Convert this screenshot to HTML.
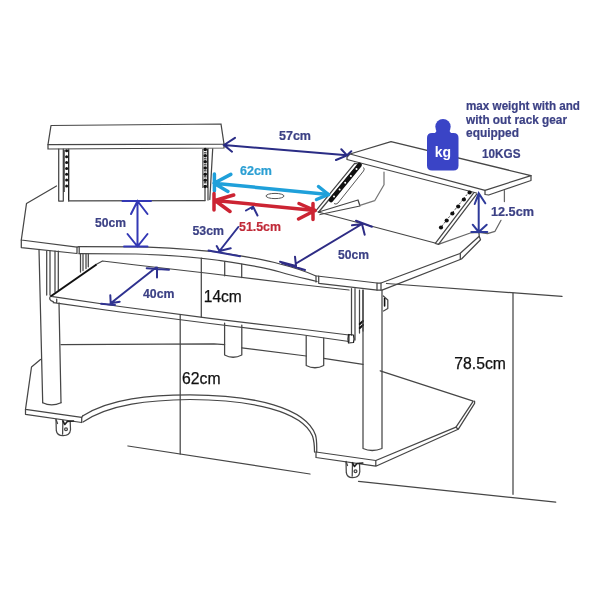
<!DOCTYPE html>
<html><head><meta charset="utf-8">
<style>
html,body{margin:0;padding:0;background:#fff;}
svg{display:block;will-change:transform;}
text{font-family:"Liberation Sans",sans-serif;}
</style></head>
<body>
<svg width="600" height="600" viewBox="0 0 600 600">
<rect width="600" height="600" fill="#fff"/>
<!-- ===== DRAWING LINES ===== -->
<g fill="none" stroke="#464646" stroke-width="1.25" stroke-linejoin="round" stroke-linecap="round">
  <!-- left hutch shelf -->
  <path d="M48,144.5 L51,125.5 L221,124 L224,144 Z"/>
  <path d="M48,144.5 L48,149 L224,148 L224,144"/>
  <!-- left hutch left bracket -->
  <path d="M58.7,149 V201 M63.3,149 V201 M68.7,149 V201 M58.7,201 H63.3"/>
  <!-- back panel bottom -->
  <path d="M68.7,200.8 L205,200.5"/>
  <!-- left hutch right bracket -->
  <path d="M205,187 V200.5 M208,148.5 V200 M212.7,148.8 L209.8,199.5"/>

  <!-- desk left wing -->
  <path d="M56.5,186 L26.5,203.5 L21.3,240 L77,247.2 L79,246.7"/>
  <path d="M21.3,240 V247.6 L77,253.5 V247.2 M79.2,246.7 V253.6"/>
  <!-- desk center front -->
  <path d="M79,246.7 L136,246.8 C155,247.3 190,248.8 216,252 C240,255.5 262,259 280,264 C292,267 305,271 316,276"/>
  <path d="M79,253.7 L136,254 C155,254.6 190,256.5 216,260 C240,263.5 262,266.5 280,272 C295,276.5 307,279 317,281.5"/>
  <!-- right wing -->
  <path d="M317,276 L377,283 L381,283 L460,253.5 L479.2,236.3 L479,232.5"/>
  <path d="M316,276 V282 M318.7,276 V283.3 L377.3,290.2 L382,290.2 L461.5,259 L480.5,239.7 L479.2,236.3"/>
  <path d="M377,283 V290 M381,283 V290 M460.3,253.7 V259"/>
  <!-- right wing back edge -->
  <path d="M318,212 L435,243"/>
  <path d="M438.3,244.3 L470.3,233 L479,232.3 L487.5,233.7 L495,231.3 L501,220.3 M504.4,201.6 L504.4,190.5" stroke="#666"/>

  <!-- right hutch shelf -->
  <path d="M350,154 L391,141.7 L531,175.6 L485,190.3 Z"/>
  <path d="M350,154 L347,157 L347,159.5 L476.5,193 M485,190.3 L485,194.5 L488.7,195 L531,180.5 V175.6" />
  <!-- right hutch left bracket -->
  <path d="M354.7,163.3 L316,210.7 M358.7,164 L318.7,212 M358.7,164 L354.7,163.3"/>
  <!-- plank -->
  <path d="M318.7,212 L358,200 L360,206 L320,214.5"/>
  <!-- back panel outline -->
  <path d="M384,172 V184.7 L374.7,200.7 L360,205.3" stroke="#777"/>
  <!-- right hutch right bracket -->
  <path d="M473.7,192.9 L435.3,243.3 L438.5,244.3 L476.7,194.2"/>

  <!-- legs & tray -->
  <path d="M39,249.5 L42.7,402.7 M59,303 L61,402.7"/>
  <path d="M42.7,402.7 Q51.5,407 61,402.7"/>
  <!-- left tray slides -->
  <path d="M46.7,251 V295 M50,251 V295 M55,251 V292 M58.3,251 V290"/>
  <path d="M80.5,253.8 V272 M83,253.8 V270.5 M86,253.8 V268.5 M88.3,253.8 V266.8"/>
  <!-- tray -->
  <path d="M96,264.5 L102.5,261 L136,265 L210,273.5 L300,284.5 L349,290"/>
  <path d="M52.7,296.7 L120,306.5 L210,318.3 L300,329 L349,335"/>
  <path d="M53.3,302.7 L120,312 L210,323.5 L300,334.5 L349,341.5 M349,335 V341.5 M56.7,299 V303"/>
  <path d="M50.5,296 Q48,300 53.3,301.7"/>
  <!-- right tray slide -->
  <path d="M351.5,288.5 V335 M355,288.5 V340 M359.5,290 V333 M363,290 V331"/>
  <path d="M359.8,324 L363,321 M359.8,328 L363,325" stroke="#111" stroke-width="2"/>
  <path d="M348.5,334.5 Q347.5,339 348.5,343 L353.5,342.5 Q354.5,338.5 353.5,335 Z" stroke="#222"/>
  <!-- center pillars -->
  <path d="M224.7,261.7 V275.8 M241.7,264 V277.5"/>
  <path d="M224.6,323 V355 Q233,359.5 241.8,355 V325"/>
  <path d="M306.2,336 V365.5 Q315,370 323.7,365.5 V338"/>
  <!-- back line behind -->
  <path d="M61,344.5 L214,343.8 L224.6,344.7"/>
  <path d="M241.8,347.8 L306.2,356" />
  <path d="M323.7,358.3 L363,364.3"/>
  <!-- right leg -->
  <path d="M363,290 V448.5 Q372,452.5 382,448.5 V290"/>
  <path d="M383.3,296 L387.8,300 V308.5 L383.5,311"/><path d="M384.6,298.5 V306" stroke="#111" stroke-width="1.6"/>
  <!-- base -->
  <path d="M40.5,359.5 L31.5,367 L25.5,409.3 L81.7,417.3 L83,415.5"/>
  <path d="M25.5,409.3 V414.3 L81.7,422.5 V417.3"/>
  <path d="M83,415.8 C110,398.5 150,395 190,394.8 C255,395 306,408 315.5,435 Q317,440 316.7,452"/>
  <path d="M83,422 C110,404 150,400 190,399.5 C252,400 302,411 312.5,436 Q314.5,442 314.5,452"/>
  <path d="M316,452 L375.8,460.5 L456,427.2 L473.3,401.2 L380.2,370.8"/>
  <path d="M316,452 V457.5 L375.8,466.2 L458.2,429.3 L474.6,403.3 V401.2 M375.8,460.5 V466.2 M456,427.2 L458.2,429.3"/>
  <!-- casters -->
  <path d="M56.0,419.5 L56.3,430.7 Q57.0,435.7 63.0,435.7 Q70.0,435.4 70.5,429.7 L70.2,421.5"/><path d="M62.9,420.5 L62.6,434.2"/><path d="M56.0,419.5 L57.5,423.5"/><path d="M62.9,421.0 L64.8,424.5 L67.3,421.5 L73.5,421.0" stroke-width="1.6" stroke="#222"/><circle cx="66.0" cy="429.2" r="1.4"/>
  <path d="M346.0,461.5 L346.3,472.7 Q347.0,477.7 352.6,477.7 Q359.3,477.4 359.8,471.7 L359.5,463.5"/><path d="M352.5,462.5 L352.2,476.2"/><path d="M346.0,461.5 L347.5,465.5"/><path d="M352.5,463.0 L354.5,466.5 L357.0,463.5 L362.8,463.0" stroke-width="1.6" stroke="#222"/><circle cx="355.5" cy="471.2" r="1.4"/>
  <!-- floor & dimension lines -->
  <path d="M128,446 L310,474"/>
  <path d="M358.5,481.3 L555.7,502.1"/>
  <path d="M180.2,315 V454"/>
  <path d="M201.3,258 V317"/>
  <path d="M513,293 V494.3"/>
  <path d="M386.5,283.5 L562,296.4"/>
</g>
<path d="M50.5,296.5 L96.5,264.5" stroke="#111" stroke-width="2.1" fill="none"/>
<!-- dots on brackets -->
<path d="M64.2,150 V192 M68.6,150 V200" stroke="#222" stroke-width="1" fill="none"/><g fill="#111"><circle cx="66.6" cy="150.8" r="1.5"/><circle cx="66.6" cy="156.7" r="1.5"/><circle cx="66.6" cy="162.5" r="1.5"/><circle cx="66.6" cy="168.4" r="1.5"/><circle cx="66.6" cy="174.3" r="1.5"/><circle cx="66.6" cy="180.1" r="1.5"/><circle cx="66.6" cy="186.0" r="1.5"/></g>
<path d="M202.9,149 V188 M207.4,149 V188" stroke="#222" stroke-width="1" fill="none"/><path d="M205.2,149 V187" stroke="#555" stroke-width="2.5" fill="none" stroke-dasharray="1.5,1.5"/><g fill="#111"><circle cx="205.2" cy="149.5" r="1.7"/><circle cx="205.2" cy="155.7" r="1.7"/><circle cx="205.2" cy="161.8" r="1.7"/><circle cx="205.2" cy="168.0" r="1.7"/><circle cx="205.2" cy="174.2" r="1.7"/><circle cx="205.2" cy="180.3" r="1.7"/><circle cx="205.2" cy="186.5" r="1.7"/></g>
<path d="M359.6,165 L331,200" stroke="#111" stroke-width="4.6" stroke-linecap="round" fill="none"/><g fill="#fff"><circle cx="356.5" cy="169.0" r="1.0"/><circle cx="350.9" cy="175.9" r="1.0"/><circle cx="345.2" cy="182.8" r="1.0"/><circle cx="339.6" cy="189.6" r="1.0"/><circle cx="334.0" cy="196.5" r="1.0"/></g>
<path d="M363.5,167.5 Q365,169 363.5,171 L338,203 Q336,205 334,203.5" stroke="#444" stroke-width="0.9" fill="none"/>
<path d="M469.2,191.7 L440.8,227.5" stroke="#333" stroke-width="0.9" stroke-dasharray="2,1.5" fill="none"/><g fill="#111"><circle cx="469.6" cy="192.5" r="2.1"/><circle cx="463.9" cy="199.5" r="2.1"/><circle cx="458.2" cy="206.5" r="2.1"/><circle cx="452.4" cy="213.5" r="2.1"/><circle cx="446.7" cy="220.5" r="2.1"/><circle cx="441.0" cy="227.5" r="2.1"/></g>
<!-- ===== ANNOTATIONS ===== -->
<!-- kg icon -->
<g fill="#3a44c6">
  <circle cx="443" cy="126.8" r="7.7"/>
  <path d="M432,133 H453.5 Q458.5,133 458.5,138 V165.5 Q458.5,170.5 453.5,170.5 H432 Q427,170.5 427,165.5 V138 Q427,133 432,133 Z"/>
  <path d="M432,134 Q436,133.5 437,129.5 L449,129.5 Q450,133.5 454,134 Z"/>
</g>
<text x="443" y="156.5" text-anchor="middle" fill="#fff" font-weight="bold" font-size="14">kg</text>

<g font-weight="bold" fill="#3c4185" stroke="#3c4185" stroke-width="0.2" font-size="12.5">
  <text x="466" y="109.6" lengthAdjust="spacingAndGlyphs" textLength="114">max weight with and</text>
  <text x="466" y="123.6" lengthAdjust="spacingAndGlyphs" textLength="101">with out rack gear</text>
  <text x="466" y="137.3" lengthAdjust="spacingAndGlyphs" textLength="53">equipped</text>
  <text x="482" y="158" lengthAdjust="spacingAndGlyphs" textLength="38.5" font-size="12.8">10KGS</text>
  <text x="279" y="140" lengthAdjust="spacingAndGlyphs" textLength="32">57cm</text>
  <text x="95" y="226.6" lengthAdjust="spacingAndGlyphs" textLength="31">50cm</text>
  <text x="192.5" y="234.5" lengthAdjust="spacingAndGlyphs" textLength="31.5">53cm</text>
  <text x="143" y="297.5" lengthAdjust="spacingAndGlyphs" textLength="31.5">40cm</text>
  <text x="338" y="259" lengthAdjust="spacingAndGlyphs" textLength="31">50cm</text>
  <text x="491" y="216" lengthAdjust="spacingAndGlyphs" textLength="43">12.5cm</text>
</g>
<text x="240" y="175" lengthAdjust="spacingAndGlyphs" textLength="32" font-weight="bold" font-size="12.5" fill="#2b9fd3" stroke="#2b9fd3" stroke-width="0.2">62cm</text>
<text x="239" y="231" lengthAdjust="spacingAndGlyphs" textLength="42" font-weight="bold" font-size="12.5" fill="#c02a38" stroke="#c02a38" stroke-width="0.2">51.5cm</text>
<g fill="#111" font-size="16" stroke="#111" stroke-width="0.25">
  <text x="203.8" y="301.7" lengthAdjust="spacingAndGlyphs" textLength="38">14cm</text>
  <text x="182" y="383.5" lengthAdjust="spacingAndGlyphs" textLength="38.5">62cm</text>
  <text x="454.3" y="368.7" lengthAdjust="spacingAndGlyphs" textLength="51.6">78.5cm</text>
</g>

<!-- dimension arrows -->
<g fill="none" stroke="#2f3290" stroke-width="2" stroke-linecap="round">
  <!-- 57cm -->
  <path stroke="#2a2c85" d="M224,145 L347,155.3 M235,137.8 L224,145 L232,151.7 M341.3,149.3 L347,155.3 L336,160 M347,155.3 L351.3,151.3"/>
  <!-- 50cm left -->
  <path stroke="#3338b5" d="M137.5,201 V246.5 M122.5,201 H151 M124,246.5 H147.5 M131,214 L137.5,201 L147.5,214 M127.5,234 L137.5,246.5 L147.5,234"/>
  <!-- 53cm -->
  <path d="M238.3,227 L219.5,251 M216.7,246 L219.5,251 L230.7,248.3 M208.5,250.5 L240,256.3"/>
  <path d="M253,206.5 L246,210.5 M253,206.5 L257.5,215.5 M253,206.5 L252,209" />
  <!-- 40cm -->
  <path d="M110.7,303.3 L156,267.5 M146.7,268.3 L169,269.7 M157,267.5 V277.5 M101,303.7 L115,305 M110.3,295.3 L110.7,303.3 L119.7,301.7"/>
  <!-- 50cm right -->
  <path stroke="#2e2c85" d="M296,263.5 L362,224 M356,220.7 L372,226.7 M352,225.3 L362,224 L364.7,234.7 M280,261.7 L296,266 L295,256.7 M282,263 L305,270"/>
  <!-- 12.5cm -->
  <path stroke="#2e3a9a" d="M478.7,193.3 V232 M474.7,204 L478.7,193.3 L485.3,203.3 M472.7,224.7 L478.7,232 L486.7,224.7 M471.3,232 H487.3"/>
</g>
<!-- cyan 62cm arrow -->
<g fill="none" stroke="#1fa0da" stroke-width="3.5" stroke-linecap="round">
  <path d="M214,183.2 L328.5,194.5 M214,183.2 L230.8,174.4 M214,183.2 L227.9,191.4 M214.4,174 V191"/>
  <path d="M328.5,194.5 L318.5,186.5 M328.5,194.5 L316.5,199.5"/>
</g>
<!-- red 51.5cm arrow -->
<g fill="none" stroke="#cc2433" stroke-width="3.5" stroke-linecap="round">
  <path d="M215,200.5 L315,210.5 M215,200.5 L233.7,195 M215,200.5 L230,211.5 M214,193.5 V210"/>
  <path d="M315,210.5 L299,203.5 M315,210.5 L298.5,219 M313,203.5 V219.5"/>
</g>
<ellipse cx="275" cy="196" rx="9" ry="2.6" fill="none" stroke="#555" stroke-width="1"/>
</svg>
</body></html>
